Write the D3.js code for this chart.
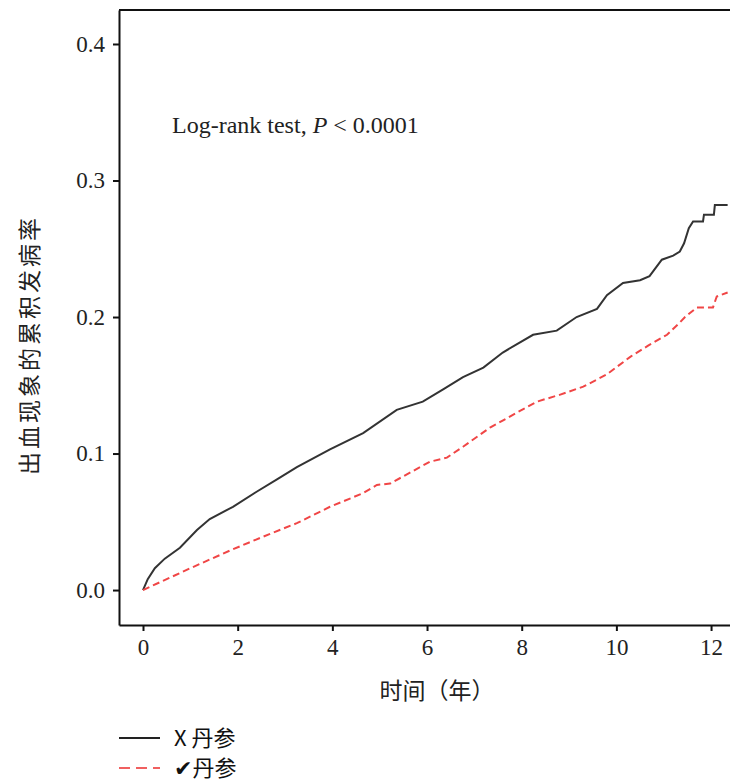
<!DOCTYPE html>
<meta charset="utf-8">
<style>
    body { margin: 0; background: #fff; }
    .axis path, .axis line { fill: none; stroke: #111; stroke-width: 2; }
    .axis text { font-family: "Liberation Serif", serif; font-size: 23px; fill: #222; }
</style>
<div class="chart"></div>
<script src="https://cdn.jsdelivr.net/npm/d3@7"></script>
<script>
    // X 丹参 (no danshen)
    var timeNo = [0, 0.1, 0.25, 0.46, 0.78, 1.14, 1.41, 1.9, 2.4, 2.83, 3.25, 3.95, 4.65, 5.36, 5.91, 6.34, 6.76, 7.19, 7.6, 8.24, 8.74, 9.16, 9.59, 9.8, 10.14, 10.5, 10.7, 10.96, 11.2, 11.34, 11.43, 11.53, 11.62, 11.83, 11.85, 12.06, 12.08, 12.35];
    var riskNo = [0, 0.008, 0.016, 0.023, 0.031, 0.044, 0.052, 0.061, 0.072, 0.081, 0.090, 0.103, 0.115, 0.132, 0.138, 0.147, 0.156, 0.163, 0.174, 0.187, 0.190, 0.200, 0.206, 0.216, 0.225, 0.227, 0.230, 0.242, 0.245, 0.248, 0.254, 0.265, 0.270, 0.270, 0.275, 0.275, 0.282, 0.282];
    // ✔丹参 (danshen)
    var timeYes = [0, 1, 1.84, 2.53, 3.25, 3.95, 4.65, 4.94, 5.22, 5.64, 6.06, 6.42, 6.76, 7.33, 7.9, 8.32, 8.8, 9.3, 9.8, 10.3, 10.67, 11.07, 11.34, 11.45, 11.7, 12.04, 12.12, 12.35];
    var riskYes = [0, 0.016, 0.029, 0.039, 0.049, 0.061, 0.071, 0.077, 0.078, 0.086, 0.094, 0.097, 0.105, 0.119, 0.130, 0.138, 0.143, 0.149, 0.158, 0.171, 0.179, 0.187, 0.196, 0.200, 0.207, 0.207, 0.215, 0.218];

    var xTicks = [0, 2, 4, 6, 8, 10, 12];
    var yTicks = [0, 0.1, 0.2, 0.3, 0.4];
    var seriesNames = ["X 丹参", "✔丹参"];

    var width = 730, height = 783;
    var svg = d3.select('.chart').append('svg')
        .attr('width', width)
        .attr('height', height);

    var x = d3.scaleLinear().domain([-0.507, 12.4]).range([119, 730]);
    var y = d3.scaleLinear().domain([-0.0256, 0.4249]).range([625, 10]);

    // frame top line
    svg.append('line')
        .attr('x1', 119).attr('x2', 730)
        .attr('y1', 10).attr('y2', 10)
        .attr('stroke', '#111').attr('stroke-width', 2);

    svg.append('g')
        .attr('class', 'axis')
        .attr('transform', 'translate(119,0)')
        .call(d3.axisLeft(y).tickValues(yTicks).tickFormat(d3.format('.1f')).tickSizeInner(6).tickSizeOuter(0).tickPadding(8));

    svg.append('g')
        .attr('class', 'axis')
        .attr('transform', 'translate(0,625)')
        .call(d3.axisBottom(x).tickValues(xTicks).tickSizeInner(6).tickSizeOuter(0).tickPadding(8));

    var line = d3.line()
        .x(function(d) { return x(d[0]); })
        .y(function(d) { return y(d[1]); });

    svg.append('path')
        .datum(d3.zip(timeNo, riskNo))
        .attr('d', line)
        .attr('fill', 'none')
        .attr('stroke', '#333')
        .attr('stroke-width', 2);

    svg.append('path')
        .datum(d3.zip(timeYes, riskYes))
        .attr('d', line)
        .attr('fill', 'none')
        .attr('stroke', '#f04646')
        .attr('stroke-width', 2)
        .attr('stroke-dasharray', '7,4');

    // log-rank annotation
    var note = svg.append('text')
        .attr('x', 172).attr('y', 133)
        .attr('font-family', '"Liberation Serif", serif')
        .attr('font-size', 24)
        .attr('fill', '#222');
    note.append('tspan').text('Log-rank test, ');
    note.append('tspan').attr('font-style', 'italic').text('P');
    note.append('tspan').text(' < 0.0001');

    // axis titles
    svg.append('text')
        .attr('transform', 'translate(38,345) rotate(-90)')
        .attr('text-anchor', 'middle')
        .attr('font-family', '"Noto Sans CJK SC", sans-serif')
        .attr('font-size', 23)
        .attr('letter-spacing', 3)
        .attr('fill', '#222')
        .text('出血现象的累积发病率');

    svg.append('text')
        .attr('x', 437).attr('y', 699)
        .attr('text-anchor', 'middle')
        .attr('font-family', '"Noto Sans CJK SC", sans-serif')
        .attr('font-size', 23)
        .attr('fill', '#222')
        .text('时间（年）');

    // legend
    var legend = svg.append('g');
    var styles = [{ color: '#222', dash: null }, { color: '#f06060', dash: '11,6' }];
    seriesNames.forEach(function(name, i) {
        var ly = 738 + i * 30;
        legend.append('line')
            .attr('x1', 119).attr('x2', 160)
            .attr('y1', ly).attr('y2', ly)
            .attr('stroke', styles[i].color)
            .attr('stroke-width', 2)
            .attr('stroke-dasharray', styles[i].dash);
        legend.append('text')
            .attr('x', 174).attr('y', ly + 8)
            .attr('font-family', '"Noto Sans CJK SC", "DejaVu Sans", sans-serif')
            .attr('font-size', 22)
            .attr('fill', '#111')
            .text(name);
    });
</script>
